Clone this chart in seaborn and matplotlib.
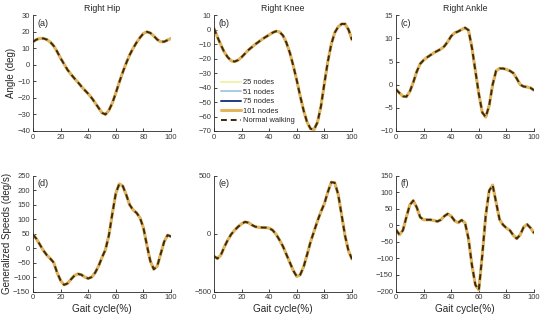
import matplotlib
matplotlib.use("Agg")
import matplotlib.pyplot as plt
import numpy as np
import pandas as pd
import seaborn as sns

# ---- data (gait cycle in %, every 2.5 %) ----
gait = np.arange(0, 100.1, 2.5)

hip_angle = [14, 15.3, 16, 16, 15.3, 13.8, 11.5, 8, 4, 0.5, -3, -5.7, -8.2, -10.5, -13,
             -15.3, -17.5, -20, -23, -26, -29, -30, -27.5, -23, -17, -10.5, -4.5, 1, 6,
             10, 13.5, 16.5, 19, 20, 19.3, 17.5, 15.3, 14, 14, 15, 16]
knee_angle = [1, -5, -10.5, -15.5, -19, -21.5, -22, -21, -19, -16.5, -14, -12, -10, -8.3,
              -6.5, -5, -3.5, -2, -1, -1.5, -4, -9, -16, -25, -35, -46, -56, -64, -68.5,
              -69, -64, -53, -37, -22, -10, -2, 2, 4, 4, 0, -7]
ankle_angle = [-1, -1.8, -2.5, -2.6, -1.5, 0.5, 2.8, 4.5, 5.3, 5.9, 6.4, 6.9, 7.3, 7.7, 8.3,
               9.3, 10.5, 11.2, 11.5, 11.9, 12.3, 11.8, 8, 3, -2, -6, -7, -4.5, 0, 3, 3.5,
               3.5, 3.3, 3, 2.5, 1.3, 0, -0.4, -0.5, -0.7, -1.2]
hip_speed = [47, 32, 12, -8, -24, -36, -50, -85, -112, -127, -122, -108, -95, -89, -92,
             -100, -105, -100, -85, -62, -32, -5, 45, 120, 190, 222, 215, 185, 150, 132,
             122, 105, 70, 10, -45, -73, -62, -20, 22, 45, 40]
knee_speed = [-195, -215, -185, -115, -55, -5, 30, 60, 85, 102, 95, 75, 60, 55, 53, 52, 48,
              30, -5, -55, -110, -180, -250, -320, -370, -355, -285, -180, -70, 20, 110,
              190, 260, 360, 445, 440, 340, 160, -20, -150, -220]
ankle_speed = [-13, -28, -15, 25, 62, 75, 55, 25, 17, 17, 17, 15, 12, 17, 28, 35, 28, 14, 8,
               16, 8, -40, -120, -180, -195, -90, 30, 105, 122, 70, 18, 2, -8, -15, -30,
               -40, -28, -5, 3, -8, -23]

series_names = ["25 nodes", "51 nodes", "75 nodes", "101 nodes", "Normal walking"]
series_colors = ["#EEF4A8", "#A9C9E6", "#1F3A8A", "#E3B459", "#3A2A12"]

panels = [
    ("(a)", "Right Hip", hip_angle, (-40, 30), np.arange(-40, 31, 10)),
    ("(b)", "Right Knee", knee_angle, (-70, 10), np.arange(-70, 11, 10)),
    ("(c)", "Right Ankle", ankle_angle, (-10, 15), np.arange(-10, 16, 5)),
    ("(d)", None, hip_speed, (-150, 250), np.arange(-150, 251, 50)),
    ("(e)", None, knee_speed, (-500, 500), [-500, 0, 500]),
    ("(f)", None, ankle_speed, (-200, 150), np.arange(-200, 151, 50)),
]

sns.set_theme(style="ticks")
plt.rcParams["font.family"] = ["Liberation Sans", "DejaVu Sans"]

fig = plt.figure(figsize=(5.5, 3.25), dpi=100)
lefts = [0.06, 0.389, 0.72]
bottoms = [0.597, 0.103]
w, h = 0.251, 0.356

for i, (tag, title, vals, ylim, yticks) in enumerate(panels):
    ax = fig.add_axes([lefts[i % 3], bottoms[i // 3], w, h])
    df = pd.DataFrame({"gait": gait, "val": vals})
    # the node solutions all sit on top of each other, draw them first
    for name, col in zip(series_names[:4], series_colors[:4]):
        sns.lineplot(data=df, x="gait", y="val", color=col, lw=2.2 if name == "101 nodes" else 1.4,
                     label=name, ax=ax, legend=False)
    sns.lineplot(data=df, x="gait", y="val", color=series_colors[4], lw=1.4,
                 label=series_names[4], ax=ax, legend=False)
    ax.lines[-1].set_dashes([3, 2])

    ax.set_xlim(0, 100)
    ax.set_ylim(*ylim)
    ax.set_xticks(np.arange(0, 101, 20))
    ax.set_yticks(yticks)
    ax.tick_params(direction="in", length=2.5, width=0.6, labelsize=5.5, pad=2,
                   colors="#262626", labelcolor="#3a3a3a")
    for s in ["top", "right"]:
        ax.spines[s].set_visible(False)
    for s in ["left", "bottom"]:
        ax.spines[s].set_linewidth(0.6)
        ax.spines[s].set_color("#262626")
    ax.set_xlabel("Gait cycle(%)" if i >= 3 else "", fontsize=7.2, labelpad=2, color="#262626")
    ax.set_ylabel("")
    if title:
        ax.set_title(title, fontsize=6.3, pad=3, color="#262626")
    ax.text(0.03, 0.97, tag, transform=ax.transAxes, va="top", ha="left", fontsize=6.5)
    if i == 0:
        ax.set_ylabel("Angle (deg)", fontsize=7, labelpad=1, color="#262626")
    if i == 3:
        ax.set_ylabel("Generalized Speeds (deg/s)", fontsize=7, labelpad=1, color="#262626")
    if i == 1:
        leg = ax.legend(loc="lower left", bbox_to_anchor=(0.02, 0.02), frameon=False,
                        fontsize=5.4, handlelength=2.6, labelspacing=0.3, handletextpad=0.3,
                        borderaxespad=0.2)
        leg.get_lines()[-1].set_dashes([3, 2])

fig.savefig("out.png", dpi=100, facecolor="white")
